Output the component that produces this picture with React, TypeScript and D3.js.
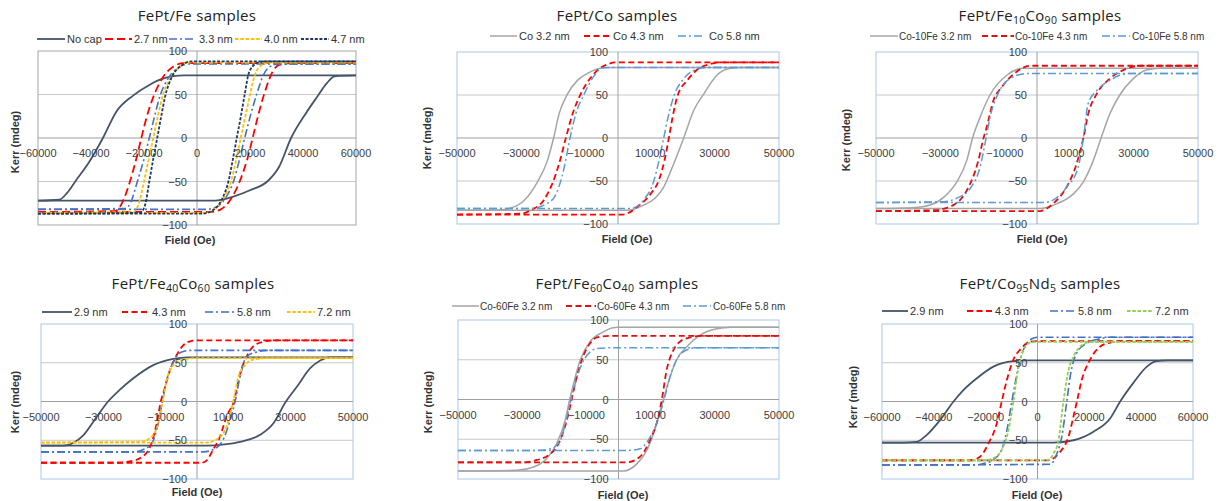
import React from "react";
import * as d3 from "d3";

type Pt = [number, number];

// ---------- Panel 1: FePt/Fe ----------
const feNoCapUp: Pt[] = [[-60000,-72],[-52000,-71],[-49000,-63],[-45500,-48],[-41000,-29],[-35500,0],[-30500,30],[-24000,49],[-18000,61],[-14000,67],[-9000,71],[-5000,72],[60000,72]];
const feNoCapDown: Pt[] = [[-60000,-72],[5000,-72],[9000,-71],[14000,-67],[20000,-60],[26500,-50],[31000,-33],[35500,0],[41000,28],[45500,48],[49000,63],[52000,71],[60000,72]];
const fe27Up: Pt[] = [[-60000,-85],[-31000,-84],[-28500,-76],[-25500,-52],[-23000,-25],[-21000,0],[-19000,24],[-16500,47],[-12800,70],[-9000,82],[-5000,86],[60000,86]];
const fe27Down: Pt[] = [[-60000,-85],[5000,-85],[9000,-82],[12800,-70],[16500,-47],[19000,-24],[21000,0],[23000,25],[25500,52],[28500,76],[31000,84],[35000,86],[60000,86]];
const fe33Up: Pt[] = [[-60000,-82],[-27000,-81],[-25000,-74],[-22500,-50],[-20000,-24],[-18000,0],[-16000,25],[-14000,48],[-11000,68],[-7500,80],[-3500,85],[60000,85]];
const fe33Down: Pt[] = [[-60000,-82],[3500,-82],[7500,-79],[11000,-68],[14000,-48],[16000,-25],[18000,0],[20000,24],[22500,50],[25000,72],[27500,82],[31000,85],[60000,85]];
const fe40Up: Pt[] = [[-60000,-86],[-24000,-85],[-22000,-76],[-20000,-50],[-18200,-24],[-16500,0],[-14800,25],[-13000,48],[-10000,69],[-6500,82],[-2500,87],[60000,87]];
const fe40Down: Pt[] = [[-60000,-86],[2500,-86],[6500,-82],[10000,-69],[13000,-48],[14800,-25],[16500,0],[18200,24],[20000,50],[22000,74],[24500,84],[28000,87],[60000,87]];
const fe47Up: Pt[] = [[-60000,-87],[-21500,-86],[-19500,-76],[-18000,-50],[-16500,-24],[-15000,0],[-13500,25],[-12000,48],[-9500,70],[-6000,83],[-2000,88],[60000,88]];
const fe47Down: Pt[] = [[-60000,-87],[2000,-87],[6000,-83],[9500,-70],[12000,-48],[13500,-25],[15000,0],[16500,24],[18000,50],[19500,74],[22000,85],[25000,88],[60000,88]];

// ---------- Panel 2: FePt/Co ----------
const co32Up: Pt[] = [[-50000,-84],[-38000,-84],[-33000,-81],[-29000,-72],[-25000,-51],[-21900,-26],[-20000,0],[-18300,28],[-15700,51],[-12600,67],[-9000,76],[-5500,81],[-2000,82],[50000,82]];
const co32Down: Pt[] = [[-50000,-84],[3000,-84],[8000,-78],[11500,-70],[14200,-57],[17300,-30],[20400,0],[23500,32],[26600,51],[30700,73],[34900,81],[38000,82],[50000,82]];
const co43Up: Pt[] = [[-50000,-89],[-30000,-88],[-27100,-84],[-23000,-72],[-20400,-53],[-18300,-30],[-16200,0],[-14100,28],[-11600,51],[-8500,70],[-6000,80],[-3000,86],[-1000,88],[50000,88]];
const co43Down: Pt[] = [[-50000,-89],[1500,-89],[6000,-80],[10100,-65],[12700,-49],[14500,-25],[15800,0],[17000,25],[18400,48],[21500,67],[25600,82],[28700,86],[32000,88],[50000,88]];
const co58Up: Pt[] = [[-50000,-82],[-27000,-82],[-23000,-78],[-19800,-69],[-16700,-34],[-14900,0],[-13100,28],[-10500,51],[-7500,72],[-4300,82],[50000,82]];
const co58Down: Pt[] = [[-50000,-82],[3900,-82],[8000,-72],[11200,-49],[12800,-25],[14200,0],[15600,25],[17300,48],[20400,69],[24600,80],[27700,82],[50000,82]];

// ---------- Panel 3: FePt/Fe10Co90 ----------
const fc10a32Up: Pt[] = [[-50000,-82],[-38400,-81],[-33200,-78],[-29000,-69],[-24900,-51],[-21800,-26],[-20000,0],[-17700,24],[-14600,50],[-9400,73],[-4200,81],[50000,81]];
const fc10a32Down: Pt[] = [[-50000,-82],[900,-82],[5100,-78],[11300,-65],[14400,-51],[17500,-26],[19900,0],[22600,28],[25700,50],[29900,69],[34000,79],[38200,81],[50000,81]];
const fc10a43Up: Pt[] = [[-50000,-85],[-32100,-84],[-26000,-78],[-21800,-61],[-18200,-26],[-16600,0],[-15600,13],[-13500,44],[-11000,59],[-6300,77],[-2200,84],[50000,84]];
const fc10a43Down: Pt[] = [[-50000,-85],[900,-85],[5100,-76],[9200,-57],[12300,-30],[14400,0],[15900,28],[18500,51],[22600,69],[25700,77],[28900,82],[32000,84],[50000,84]];
const fc10a58Up: Pt[] = [[-50000,-75],[-29000,-74],[-24900,-70],[-20800,-59],[-17700,-34],[-15800,0],[-14600,24],[-12500,48],[-8400,69],[-3200,75],[50000,75]];
const fc10a58Down: Pt[] = [[-50000,-75],[2000,-75],[5100,-72],[9200,-57],[12800,-34],[14400,0],[15900,40],[18500,55],[22600,67],[25700,73],[28900,75],[50000,75]];

// ---------- Panel 4: FePt/Fe40Co60 ----------
const fc40a29Up: Pt[] = [[-50000,-57],[-42700,-57],[-39500,-53],[-36300,-43],[-32000,-19],[-28500,0],[-24500,16],[-20400,30],[-14000,47],[-7600,55],[-3000,57],[50000,57]];
const fc40a29Down: Pt[] = [[-50000,-57],[3000,-57],[9500,-55],[13800,-52],[20200,-43],[24500,-28],[28500,0],[32000,19],[36300,43],[39500,53],[42700,57],[50000,57]];
const fc40a43Up: Pt[] = [[-50000,-79],[-25600,-79],[-21300,-77],[-18200,-73],[-15000,-58],[-12900,-28],[-11600,0],[-10500,15],[-8600,41],[-6500,60],[-4500,72],[-2000,78],[0,79],[50000,79]];
const fc40a43Down: Pt[] = [[-50000,-79],[1500,-79],[3100,-76],[5200,-62],[7400,-45],[9500,-19],[11800,0],[13800,36],[15900,58],[18000,71],[21200,77],[25500,79],[50000,79]];
const fc40a58Up: Pt[] = [[-50000,-65],[-20400,-65],[-17200,-62],[-14500,-54],[-12400,-28],[-11100,0],[-9700,28],[-7600,51],[-4900,64],[-2000,66],[50000,66]];
const fc40a58Down: Pt[] = [[-50000,-65],[2000,-65],[5200,-62],[8400,-49],[10600,-24],[12200,0],[13800,32],[15900,58],[19200,64],[22400,66],[50000,66]];
const fc40a72Up: Pt[] = [[-50000,-53],[-18200,-52],[-15000,-47],[-12400,-28],[-11000,0],[-9700,28],[-7600,47],[-4400,54],[0,56],[50000,56]];
const fc40a72Down: Pt[] = [[-50000,-53],[3000,-53],[6300,-49],[9500,-32],[11600,0],[13300,32],[15400,47],[18000,54],[22400,56],[50000,56]];

// ---------- Panel 5: FePt/Fe60Co40 ----------
const fc60a32Up: Pt[] = [[-50000,-90],[-31600,-89],[-26400,-85],[-22300,-74],[-19200,-55],[-16600,-26],[-15200,0],[-14000,20],[-11900,50],[-8800,73],[-4700,85],[-2100,90],[0,91],[50000,91]];
const fc60a32Down: Pt[] = [[-50000,-90],[1500,-90],[5700,-81],[8800,-64],[10900,-43],[14000,0],[16100,29],[18100,50],[21200,66],[25400,81],[30600,89],[35000,91],[50000,91]];
const fc60a43Up: Pt[] = [[-50000,-79],[-29500,-79],[-25400,-76],[-21800,-70],[-18600,-55],[-16100,-26],[-14600,0],[-13500,20],[-11400,50],[-8800,71],[-6700,78],[-3000,80],[50000,80]];
const fc60a43Down: Pt[] = [[-50000,-79],[2600,-79],[6700,-72],[9800,-51],[12400,-22],[13500,0],[15000,37],[17100,62],[19200,73],[22300,78],[26000,80],[50000,80]];
const fc60a58Up: Pt[] = [[-50000,-64],[-25400,-64],[-21200,-62],[-18100,-51],[-16300,-26],[-14800,0],[-13500,20],[-11400,45],[-9300,58],[-6700,64],[-3000,65],[50000,65]];
const fc60a58Down: Pt[] = [[-50000,-64],[3000,-64],[6700,-62],[9300,-51],[11900,-30],[14200,0],[16100,29],[18100,50],[20200,60],[24300,65],[50000,65]];

// ---------- Panel 6: FePt/Co95Nd5 ----------
const cn29Up: Pt[] = [[-60000,-53],[-51700,-53],[-46600,-52],[-42700,-43],[-37600,-24],[-32400,0],[-28500,15],[-23400,30],[-17000,45],[-9300,52],[-4000,53],[60000,53]];
const cn29Down: Pt[] = [[-60000,-53],[6200,-53],[13900,-50],[21600,-39],[28000,-22],[31900,0],[37000,24],[42200,45],[46000,52],[49900,53],[60000,53]];
const cn43Up: Pt[] = [[-60000,-76],[-26000,-76],[-22100,-71],[-18900,-54],[-15700,-28],[-13800,0],[-11800,28],[-9300,54],[-6700,67],[-2800,77],[0,78],[60000,78]];
const cn43Down: Pt[] = [[-60000,-76],[3600,-76],[8700,-65],[12000,-45],[13900,-19],[15200,0],[17100,28],[20300,54],[24200,71],[28000,76],[32000,78],[60000,78]];
const cn58Up: Pt[] = [[-60000,-82],[-24700,-82],[-20800,-80],[-17000,-75],[-13800,-62],[-11800,-37],[-9900,0],[-8600,24],[-6700,54],[-4100,75],[-1500,82],[0,83],[60000,83]];
const cn58Down: Pt[] = [[-60000,-82],[4900,-81],[7500,-67],[9400,-45],[11300,0],[12600,32],[15200,63],[19000,75],[24200,81],[28000,83],[60000,83]];
const cn72Up: Pt[] = [[-60000,-76],[-20800,-76],[-17000,-73],[-13800,-62],[-11200,-37],[-9300,0],[-7300,45],[-5400,67],[-2800,76],[0,77],[60000,77]];
const cn72Down: Pt[] = [[-60000,-76],[3600,-76],[6200,-67],[8100,-50],[10000,0],[12000,41],[13900,58],[16500,71],[19000,76],[22000,77],[60000,77]];

const yTicks = [100, 50, 0, -50, -100];
const xTicks60 = [-60000, -40000, -20000, 0, 20000, 40000, 60000];
const xTicks50 = [-50000, -30000, -10000, 10000, 30000, 50000];

const SANS = "'Liberation Sans', Arial, sans-serif";
const TITLE_FONT = "'Open Sans', 'Noto Sans', sans-serif";

interface Series { label: string; color: string; dash?: string; width: number; up: Pt[]; down: Pt[]; }
interface LegendPos { x0: number; x1: number; tx: number; }
interface Panel {
  id: string;
  title: [string, boolean][];
  titleX: number; titleY: number;
  xMax: number; xTicks: number[];
  box: { l: number; r: number; t: number; b: number };
  frame: string; grid: string;
  legendY: number; legendFont: number; legend: LegendPos[];
  kerrX: number; kerrY: number; fieldX: number; fieldY: number;
  series: Series[];
}

const RED_LONG = "8,4";
const RED = "6,3.5";
const DASHDOT = "8,3,2,3";
const SHORT = "3.5,1.8";
const DOT = "3,1.6";

const panels: Panel[] = [
  {
    id: "p1", title: [["FePt/Fe samples", false]], titleX: 197, titleY: 21,
    xMax: 60000, xTicks: xTicks60, box: { l: 38, r: 356, t: 51, b: 225 },
    frame: "#A6A6A6", grid: "#C8C8C8", legendY: 39, legendFont: 11,
    legend: [{ x0: 37, x1: 65, tx: 67 }, { x0: 105, x1: 132, tx: 134 }, { x0: 169, x1: 196, tx: 199 }, { x0: 235, x1: 262, tx: 264 }, { x0: 301, x1: 329, tx: 331 }],
    kerrX: 15, kerrY: 142, fieldX: 190, fieldY: 244,
    series: [
      { label: "No cap", color: "#44546A", width: 1.8, up: feNoCapUp, down: feNoCapDown },
      { label: "2.7 nm", color: "#FF0000", dash: RED_LONG, width: 1.8, up: fe27Up, down: fe27Down },
      { label: "3.3 nm", color: "#4472C4", dash: DASHDOT, width: 1.6, up: fe33Up, down: fe33Down },
      { label: "4.0 nm", color: "#FFC000", dash: SHORT, width: 1.8, up: fe40Up, down: fe40Down },
      { label: "4.7 nm", color: "#203864", dash: DOT, width: 1.8, up: fe47Up, down: fe47Down },
    ],
  },
  {
    id: "p2", title: [["FePt/Co samples", false]], titleX: 617, titleY: 21,
    xMax: 50000, xTicks: xTicks50, box: { l: 457, r: 779, t: 52, b: 224 },
    frame: "#A9C8EA", grid: "#C8C8C8", legendY: 36, legendFont: 11,
    legend: [{ x0: 490, x1: 517, tx: 519 }, { x0: 584, x1: 611, tx: 613 }, { x0: 678, x1: 705, tx: 709 }],
    kerrX: 427, kerrY: 138, fieldX: 627, fieldY: 243,
    series: [
      { label: "Co 3.2 nm", color: "#A5A5A5", width: 1.5, up: co32Up, down: co32Down },
      { label: "Co 4.3 nm", color: "#FF0000", dash: RED, width: 1.8, up: co43Up, down: co43Down },
      { label: "Co 5.8 nm", color: "#5B9BD5", dash: DASHDOT, width: 1.5, up: co58Up, down: co58Down },
    ],
  },
  {
    id: "p3", title: [["FePt/Fe", false], ["10", true], ["Co", false], ["90", true], [" samples", false]], titleX: 1040, titleY: 21,
    xMax: 50000, xTicks: xTicks50, box: { l: 876, r: 1198, t: 52, b: 224 },
    frame: "#A9C8EA", grid: "#C8C8C8", legendY: 36, legendFont: 10,
    legend: [{ x0: 870, x1: 898, tx: 899 }, { x0: 982, x1: 1014, tx: 1015 }, { x0: 1102, x1: 1130, tx: 1132 }],
    kerrX: 846, kerrY: 140, fieldX: 1042, fieldY: 243,
    series: [
      { label: "Co-10Fe 3.2 nm", color: "#A5A5A5", width: 1.5, up: fc10a32Up, down: fc10a32Down },
      { label: "Co-10Fe 4.3 nm", color: "#E01010", dash: RED, width: 1.8, up: fc10a43Up, down: fc10a43Down },
      { label: "Co-10Fe 5.8 nm", color: "#5B9BD5", dash: DASHDOT, width: 1.5, up: fc10a58Up, down: fc10a58Down },
    ],
  },
  {
    id: "p4", title: [["FePt/Fe", false], ["40", true], ["Co", false], ["60", true], [" samples", false]], titleX: 193, titleY: 289,
    xMax: 50000, xTicks: xTicks50, box: { l: 41, r: 353, t: 324, b: 479 },
    frame: "#A9C8EA", grid: "#C8C8C8", legendY: 312, legendFont: 11,
    legend: [{ x0: 42, x1: 72, tx: 74 }, { x0: 122, x1: 150, tx: 152 }, { x0: 205, x1: 234, tx: 237 }, { x0: 287, x1: 315, tx: 317 }],
    kerrX: 15, kerrY: 402, fieldX: 197, fieldY: 496,
    series: [
      { label: "2.9 nm", color: "#44546A", width: 1.8, up: fc40a29Up, down: fc40a29Down },
      { label: "4.3 nm", color: "#FF0000", dash: RED, width: 1.8, up: fc40a43Up, down: fc40a43Down },
      { label: "5.8 nm", color: "#4472C4", dash: DASHDOT, width: 1.6, up: fc40a58Up, down: fc40a58Down },
      { label: "7.2 nm", color: "#FFC000", dash: SHORT, width: 1.8, up: fc40a72Up, down: fc40a72Down },
    ],
  },
  {
    id: "p5", title: [["FePt/Fe", false], ["60", true], ["Co", false], ["40", true], [" samples", false]], titleX: 617, titleY: 289,
    xMax: 50000, xTicks: xTicks50, box: { l: 458, r: 779, t: 320, b: 479 },
    frame: "#A9C8EA", grid: "#C8C8C8", legendY: 306, legendFont: 10,
    legend: [{ x0: 452, x1: 479, tx: 480 }, { x0: 566, x1: 596, tx: 597 }, { x0: 683, x1: 711, tx: 713 }],
    kerrX: 428, kerrY: 402, fieldX: 623, fieldY: 499,
    series: [
      { label: "Co-60Fe 3.2 nm", color: "#A5A5A5", width: 1.5, up: fc60a32Up, down: fc60a32Down },
      { label: "Co-60Fe 4.3 nm", color: "#E01010", dash: RED, width: 1.8, up: fc60a43Up, down: fc60a43Down },
      { label: "Co-60Fe 5.8 nm", color: "#5B9BD5", dash: DASHDOT, width: 1.5, up: fc60a58Up, down: fc60a58Down },
    ],
  },
  {
    id: "p6", title: [["FePt/Co", false], ["95", true], ["Nd", false], ["5", true], [" samples", false]], titleX: 1040, titleY: 289,
    xMax: 60000, xTicks: xTicks60, box: { l: 882, r: 1193, t: 324, b: 479 },
    frame: "#A9C8EA", grid: "#C8C8C8", legendY: 311, legendFont: 11,
    legend: [{ x0: 882, x1: 908, tx: 910 }, { x0: 967, x1: 993, tx: 995 }, { x0: 1050, x1: 1075, tx: 1078 }, { x0: 1127, x1: 1153, tx: 1155 }],
    kerrX: 853, kerrY: 397, fieldX: 1037, fieldY: 499,
    series: [
      { label: "2.9 nm", color: "#44546A", width: 1.8, up: cn29Up, down: cn29Down },
      { label: "4.3 nm", color: "#FF0000", dash: RED, width: 1.8, up: cn43Up, down: cn43Down },
      { label: "5.8 nm", color: "#4472C4", dash: DASHDOT, width: 1.6, up: cn58Up, down: cn58Down },
      { label: "7.2 nm", color: "#92D050", dash: SHORT, width: 1.8, up: cn72Up, down: cn72Down },
    ],
  },
];

const fmt = d3.format("d");

function PanelView({ p }: { p: Panel }) {
  const x = d3.scaleLinear().domain([-p.xMax, p.xMax]).range([p.box.l, p.box.r]);
  const y = d3.scaleLinear().domain([-100, 100]).range([p.box.b, p.box.t]);
  const line = d3.line<Pt>().x((d) => x(d[0])).y((d) => y(d[1])).curve(d3.curveMonotoneX);
  const x0 = x(0);
  const y0 = y(0);
  return (
    <g>
      <defs>
        <clipPath id={`clip-${p.id}`}>
          <rect x={p.box.l} y={p.box.t - 1} width={p.box.r - p.box.l} height={p.box.b - p.box.t + 2} />
        </clipPath>
      </defs>
      {/* title */}
      <text x={p.titleX} y={p.titleY} textAnchor="middle" fontFamily={TITLE_FONT} fontSize={15} fill="#222" letterSpacing={0.3}>
        {p.title.map(([t, sub], i) => {
          const prevSub = i > 0 && p.title[i - 1][1];
          const dy = sub ? 3 : prevSub ? -3 : 0;
          return (
            <tspan key={i} fontSize={sub ? 10.5 : 15} dy={dy}>{t}</tspan>
          );
        })}
      </text>
      {/* legend */}
      {p.series.map((s, i) => {
        const lp = p.legend[i];
        return (
          <g key={i}>
            <line x1={lp.x0} x2={lp.x1} y1={p.legendY} y2={p.legendY} stroke={s.color} strokeWidth={s.width} strokeDasharray={s.dash} />
            <text x={lp.tx} y={p.legendY + 4} fontFamily={SANS} fontSize={p.legendFont} fill="#333">{s.label}</text>
          </g>
        );
      })}
      {/* grid lines */}
      {[50, -50].map((v) => (
        <line key={v} x1={p.box.l} x2={p.box.r} y1={y(v)} y2={y(v)} stroke={p.grid} strokeWidth={1} />
      ))}
      {/* frame */}
      <rect x={p.box.l} y={p.box.t} width={p.box.r - p.box.l} height={p.box.b - p.box.t} fill="none" stroke={p.frame} strokeWidth={1} />
      {/* axes through origin */}
      <line x1={p.box.l} x2={p.box.r} y1={y0} y2={y0} stroke="#A0A0A0" strokeWidth={1} />
      <line x1={x0} x2={x0} y1={p.box.t} y2={p.box.b} stroke="#A0A0A0" strokeWidth={1} />
      {/* series */}
      <g clipPath={`url(#clip-${p.id})`}>
        {p.series.map((s, i) => (
          <g key={i} fill="none" stroke={s.color} strokeWidth={s.width} strokeDasharray={s.dash}>
            <path d={line(s.up) || ""} />
            <path d={line(s.down) || ""} />
          </g>
        ))}
      </g>
      {/* y tick labels */}
      {yTicks.map((v) => (
        <text key={v} x={x0 - 10} y={y(v) + 4} textAnchor="end" fontFamily={SANS} fontSize={11} fill="#404040">{fmt(v)}</text>
      ))}
      {/* x tick labels */}
      {p.xTicks.map((v) => (
        <text key={v} x={x(v)} y={y0 + 19} textAnchor="middle" fontFamily={SANS} fontSize={11} fill="#404040">{fmt(v)}</text>
      ))}
      {/* axis titles */}
      <text transform={`translate(${p.kerrX},${p.kerrY}) rotate(-90)`} textAnchor="middle" dy={4} fontFamily={SANS} fontSize={11} fontWeight="bold" fill="#333">Kerr (mdeg)</text>
      <text x={p.fieldX} y={p.fieldY} textAnchor="middle" fontFamily={SANS} fontSize={11} fontWeight="bold" fill="#333">Field (Oe)</text>
    </g>
  );
}

export default function App() {
  return (
    <svg width={1226} height={501} viewBox="0 0 1226 501" style={{ position: "absolute", left: 0, top: 0, display: "block", background: "#fff" }}>
      <rect x={0} y={0} width={1226} height={501} fill="#fff" />
      {panels.map((p) => (
        <PanelView key={p.id} p={p} />
      ))}
    </svg>
  );
}
